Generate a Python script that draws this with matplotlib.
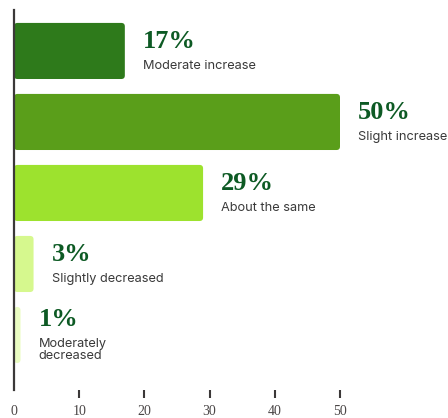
import matplotlib.pyplot as plt
from matplotlib.patches import FancyBboxPatch

# survey answers, top to bottom
categories = ["Moderate increase", "Slight increase", "About the same",
              "Slightly decreased", "Moderately\ndecreased"]
shares = [17, 50, 29, 3, 1]
bar_colors = ["#2e7a1b", "#5a9e1a", "#9de22e", "#d6f88e", "#eafcc2"]
tick_values = [0, 10, 20, 30, 40, 50]

W, H = 448, 418
fig = plt.figure(figsize=(W / 100, H / 100), dpi=100)
ax = fig.add_axes([14 / W, 28 / H, 1 - 14 / W, 380 / H])

y = list(range(len(categories)))
bars = ax.barh(y, shares, height=0.79, color=bar_colors)

ax.set_xlim(0, (W - 14) / 6.52)
ax.set_ylim(4.775, -0.577)

# swap the plain rectangles for ones with rounded corners
px_x = 6.52   # pixels per x unit
px_y = 71.0   # pixels per y unit
for rect, c in zip(bars, bar_colors):
    rect.set_visible(False)
    x0, y0 = rect.get_x(), rect.get_y()
    w, h = rect.get_width(), rect.get_height()
    r = 3.5 / px_x
    patch = FancyBboxPatch((x0, y0), w, h,
                           boxstyle=f"round,pad=0,rounding_size={r}",
                           mutation_aspect=px_x / px_y,
                           facecolor=c, edgecolor="none", zorder=2)
    ax.add_patch(patch)

# value and category labels to the right of each bar
for i, (v, cat) in enumerate(zip(shares, categories)):
    two_lines = "\n" in cat
    ax.annotate(f"{v}%", xy=(v, i), xytext=(13, 11 if two_lines else 6.5),
                textcoords="offset points", ha="left", va="center",
                fontsize=19, fontweight="bold", family="Liberation Serif",
                color="#0d5a24")
    ax.annotate(cat, xy=(v, i), xytext=(13, -2 if two_lines else -11),
                textcoords="offset points", ha="left",
                va="top" if two_lines else "center",
                fontsize=9.2, family="Inter", color="#3a3a3a",
                linespacing=1.05)

for s in ["top", "right", "bottom"]:
    ax.spines[s].set_visible(False)
ax.spines["left"].set_color("#3b3838")
ax.spines["left"].set_linewidth(1.6)
ax.spines["left"].set_zorder(3)

ax.set_yticks([])
ax.set_xticks(tick_values)
ax.set_xticklabels([str(t) for t in tick_values], family="Liberation Serif",
                   fontsize=10, color="#4a4646")
ax.tick_params(axis="x", length=6, width=1.5, color="#3b3838", pad=5)
ax.xaxis.get_major_ticks()[0].tick1line.set_visible(False)

fig.savefig("out.png", dpi=100)
